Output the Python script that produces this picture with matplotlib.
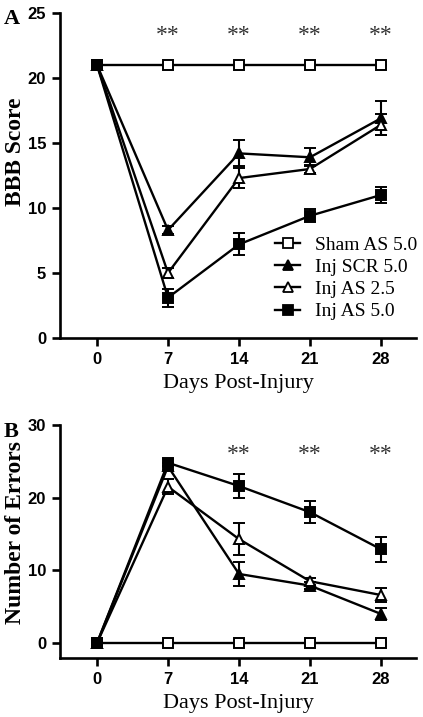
import matplotlib
matplotlib.use("Agg")
import matplotlib.pyplot as plt
from matplotlib.lines import Line2D

# data
days = [0, 7, 14, 21, 28]
labels = ["Sham AS 5.0", "Inj SCR 5.0", "Inj AS 2.5", "Inj AS 5.0"]

bbb_sham = [21, 21, 21, 21, 21]
bbb_sham_err = [0, 0, 0, 0, 0]
bbb_scr = [21, 8.3, 14.2, 13.9, 16.9]
bbb_scr_err = [0, 0.3, 1.0, 0.7, 1.3]
bbb_as25 = [21, 5.0, 12.3, 13.0, 16.4]
bbb_as25_err = [0, 0.4, 0.8, 0.3, 0.8]
bbb_as50 = [21, 3.1, 7.2, 9.4, 11.0]
bbb_as50_err = [0, 0.7, 0.85, 0.5, 0.6]

err_sham = [0, 0, 0, 0, 0]
err_sham_err = [0, 0, 0, 0, 0]
err_scr = [0, 24.3, 9.5, 7.9, 4.0]
err_scr_err = [0, 0.5, 1.6, 0.5, 0.8]
err_as25 = [0, 21.5, 14.3, 8.5, 6.6]
err_as25_err = [0, 1.0, 2.2, 0.5, 1.0]
err_as50 = [0, 24.8, 21.6, 18.0, 12.9]
err_as50_err = [0, 0.5, 1.6, 1.5, 1.7]

stars_a = [7, 14, 21, 28]
stars_b = [14, 21, 28]

styles = [
    dict(marker="s", mfc="white"),
    dict(marker="^", mfc="black"),
    dict(marker="^", mfc="white"),
    dict(marker="s", mfc="black"),
]

serif = "Liberation Serif"
sans = "Liberation Sans"

fig = plt.figure(figsize=(4.23, 7.17), dpi=100)
axA = fig.add_axes([0.1418, 0.5286, 0.8416, 0.4533])
axB = fig.add_axes([0.1418, 0.0823, 0.8416, 0.3250])


def style_ticks(ax):
    for t in ax.get_xticklabels() + ax.get_yticklabels():
        t.set_fontfamily(sans)
        t.set_fontweight("bold")
        t.set_fontsize(12)


def draw(ax, series, errs):
    for y, e, st in zip(series, errs, styles):
        ax.errorbar(days, y, yerr=e, color="black", lw=1.7, ms=7.5,
                    mec="black", mew=1.4, capsize=4.3, capthick=1.5,
                    elinewidth=1.5, clip_on=False, zorder=3, **st)
    ax.set_xlim(-3.65, 31.45)
    ax.set_xticks(days)
    for s in ["top", "right"]:
        ax.spines[s].set_visible(False)
    for s in ["left", "bottom"]:
        ax.spines[s].set_linewidth(1.9)
    ax.tick_params(direction="out", width=1.9, length=6, pad=4)
    ax.set_xlabel("Days Post-Injury", fontfamily=serif, fontsize=16,
                  labelpad=5)


draw(axA, [bbb_sham, bbb_scr, bbb_as25, bbb_as50],
     [bbb_sham_err, bbb_scr_err, bbb_as25_err, bbb_as50_err])
axA.set_ylim(0, 25)
axA.set_yticks([0, 5, 10, 15, 20, 25])
style_ticks(axA)
axA.set_ylabel("BBB Score", fontfamily=serif, fontweight="bold", fontsize=17)
axA.yaxis.set_label_coords(-0.095, 0.572)
for d in stars_a:
    axA.text(d, 23.3, "**", ha="center", va="center", fontsize=17,
             fontfamily=serif, color="#333333")

handles = [Line2D([], [], color="black", lw=1.7, ms=6.5, mec="black",
                  mew=1.3, **st) for st in styles]
fig.legend(handles, labels, loc="upper left",
           bbox_to_anchor=(275 / 423, 1 - 236 / 717), frameon=False,
           prop={"family": serif, "size": 14}, handlelength=1.3,
           handletextpad=0.75, labelspacing=0.24, borderpad=0,
           borderaxespad=0)

draw(axB, [err_sham, err_scr, err_as25, err_as50],
     [err_sham_err, err_scr_err, err_as25_err, err_as50_err])
axB.set_ylim(-2.06, 30)
axB.set_yticks([0, 10, 20, 30])
style_ticks(axB)
axB.set_ylabel("Number of Errors", fontfamily=serif, fontweight="bold",
               fontsize=17)
axB.yaxis.set_label_coords(-0.095, 0.54)
for d in stars_b:
    axB.text(d, 26.0, "**", ha="center", va="center", fontsize=17,
             fontfamily=serif, color="#333333")

fig.text(4 / 423, 1 - 24 / 717, "A", fontfamily=serif, fontweight="bold",
         fontsize=16)
fig.text(4 / 423, 1 - 437 / 717, "B", fontfamily=serif, fontweight="bold",
         fontsize=16)

fig.savefig("out.png", dpi=100)
